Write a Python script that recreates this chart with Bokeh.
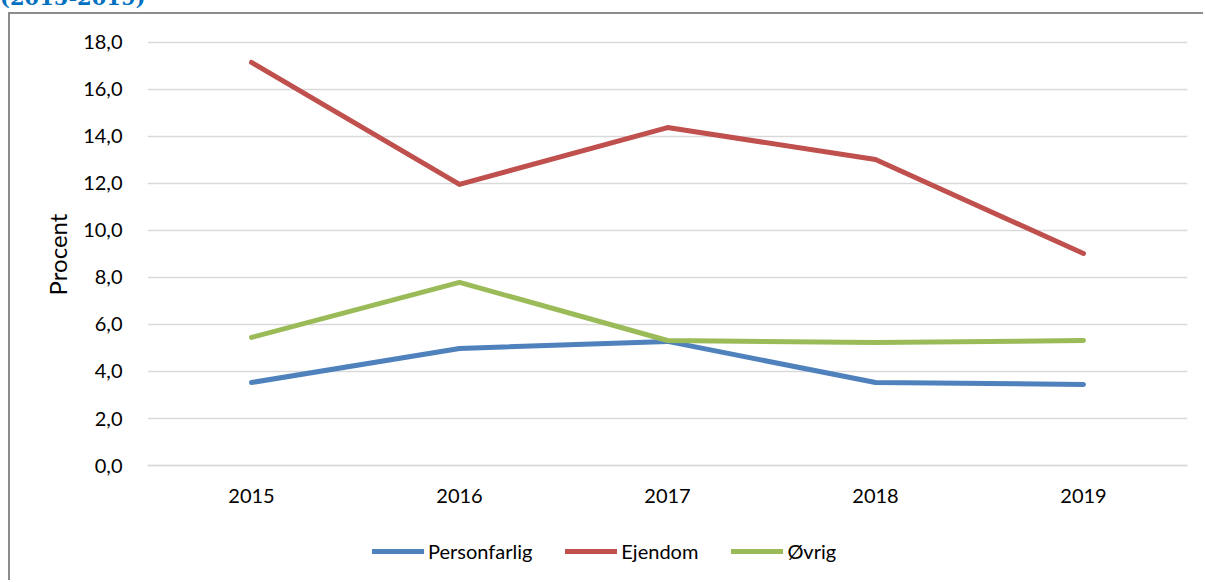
from bokeh.plotting import figure
from bokeh.models import (FixedTicker, CustomJSTickFormatter, Legend, LegendItem,
                          Range1d, FactorRange, Div)
from bokeh.layouts import column
from bokeh.embed import file_html
from bokeh.resources import INLINE

years = ["2015", "2016", "2017", "2018", "2019"]
personfarlig = [3.53, 4.98, 5.28, 3.53, 3.45]
ejendom = [17.15, 11.96, 14.38, 13.02, 9.02]
ovrig = [5.45, 7.79, 5.32, 5.23, 5.32]
series_names = ["Personfarlig", "Ejendom", "Øvrig"]
colors = ["#4F81BD", "#C0504D", "#9BBB59"]
y_ticks = [0, 2, 4, 6, 8, 10, 12, 14, 16, 18]
y_title = "Procent"
title_text = "(2015-2019)"

FONT = "Lato"

head = Div(text=('<div style="position:relative; top:-17px; left:0px; font-family:\'DejaVu Serif\';'
                 ' font-weight:bold; font-size:21px; color:#0070C0; white-space:nowrap;">'
                 + title_text + '</div>'),
           width=1205, height=12, margin=0, styles={"overflow": "hidden"})

p = figure(width=1195, height=568, x_range=FactorRange(*years), y_range=Range1d(-4.255, 18.51),
           output_backend="svg", toolbar_location=None, margin=0,
           min_border_left=137, min_border_right=18, min_border_top=16, min_border_bottom=17,
           styles={"border-left": "2px solid #8C8C8C", "border-top": "2px solid #8C8C8C",
                   "margin-left": "8px"})
p.outline_line_color = None
p.background_fill_color = "white"
p.border_fill_color = "white"

p.xgrid.grid_line_color = None
p.ygrid.grid_line_color = "#D9D9D9"
p.ygrid.grid_line_width = 1.5
p.yaxis.ticker = FixedTicker(ticks=y_ticks)
p.yaxis.formatter = CustomJSTickFormatter(code="return tick.toFixed(1).replace('.', ',');")

for ax in (p.xaxis, p.yaxis):
    ax.major_tick_line_color = None
    ax.minor_tick_line_color = None
    ax.major_label_text_font = FONT
    ax.major_label_text_font_size = "20px"
    ax.major_label_text_color = "black"
p.yaxis.axis_line_color = None
p.xaxis.fixed_location = 0
p.xaxis.axis_line_color = "#D9D9D9"
p.xaxis.axis_line_width = 1.5
p.yaxis.major_label_standoff = 19
p.xaxis.major_label_standoff = 17
# leading wide spaces shift the centred title up so it sits beside the 0-18 span
p.yaxis.axis_label = "\u2003\u2003\u2003\u2003\u2002\u2009" + y_title
p.yaxis.axis_label_text_font = FONT
p.yaxis.axis_label_text_font_size = "24px"
p.yaxis.axis_label_text_font_style = "normal"
p.yaxis.axis_label_text_color = "black"
p.yaxis.axis_label_standoff = 8

renderers = []
for name, vals, c in zip(series_names, [personfarlig, ejendom, ovrig], colors):
    r = p.line(years, vals, line_color=c, line_width=5, line_cap="round", line_join="round")
    renderers.append(r)

legend = Legend(items=[LegendItem(label=n, renderers=[r]) for n, r in zip(series_names, renderers)],
                orientation="horizontal", location=(225, 2),
                label_text_font=FONT, label_text_font_size="20px", label_text_color="black",
                glyph_width=52, glyph_height=20, label_standoff=4, spacing=33,
                padding=0, margin=0, border_line_color=None, background_fill_alpha=0)
p.add_layout(legend, "center")

layout = column(head, p, spacing=0)
open("out.html", "w").write(file_html(layout, INLINE))
